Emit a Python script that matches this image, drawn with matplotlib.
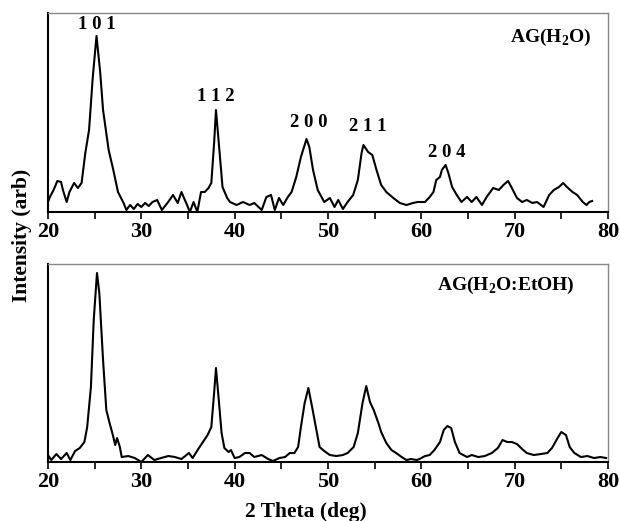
import matplotlib.pyplot as plt

plt.rcParams['font.family'] = ['Liberation Serif', 'DejaVu Serif']
plt.rcParams['font.weight'] = 'bold'
plt.rcParams['mathtext.fontset'] = 'custom'
plt.rcParams['mathtext.rm'] = 'Liberation Serif:bold'
plt.rcParams['mathtext.bf'] = 'Liberation Serif:bold'

# AG(H2O) pattern
top_2theta = [20.0, 20.2, 20.6, 21.0, 21.4, 21.6, 22.0, 22.3, 22.8, 23.2, 23.6, 24.0, 24.4, 24.8,
              25.2, 25.6, 25.9, 26.5, 27.0, 27.5, 28.1, 28.4, 28.8, 29.2, 29.6, 30.0, 30.4,
              30.8, 31.2, 31.7, 32.2, 32.8, 33.4, 33.9, 34.3, 34.9, 35.2, 35.6, 36.0, 36.4,
              36.8, 37.2, 37.5, 37.8, 38.0, 38.3, 38.7, 39.2, 39.5, 40.2, 40.9, 41.6, 42.1,
              42.9, 43.4, 43.9, 44.3, 44.75, 45.2, 45.7, 46.1, 46.6, 47.1, 47.7, 48.0, 48.4,
              48.9, 49.6, 50.2, 50.7, 51.1, 51.6, 52.1, 52.7, 53.2, 53.6, 53.8, 54.3, 54.75,
              55.2, 55.7, 56.25, 57.0, 57.7, 58.4, 59.1, 59.6, 60.4, 60.9, 61.3, 61.6, 62.0,
              62.2, 62.6, 62.9, 63.3, 63.8, 64.3, 64.9, 65.4, 65.9, 66.5, 67.0, 67.7, 68.3,
              68.8, 69.3, 69.7, 70.25, 70.8, 71.3, 71.9, 72.4, 73.1, 73.7, 74.2, 74.75, 75.2,
              75.6, 76.2, 76.7, 77.3, 77.7, 78.0, 78.3]
top_int = [10, 15, 22, 31, 30, 22, 10, 20, 29, 24, 29, 59, 82, 135,
           176, 139, 102, 62, 42, 20, 9, 2, 7, 3, 8, 5, 9,
           6, 10, 12, 2, 9, 17, 9, 20, 7, 0, 10, 0, 20,
           20, 24, 29, 69, 102, 69, 25, 14, 10, 7, 10, 7, 9,
           2, 15, 17, 2, 14, 7, 15, 20, 35, 55, 73, 65, 42,
           22, 10, 14, 5, 12, 3, 10, 17, 32, 59, 67, 60, 57,
           42, 27, 20, 14, 9, 7, 9, 10, 10, 15, 20, 32, 35,
           42, 47, 39, 25, 17, 10, 15, 10, 15, 7, 15, 24, 22,
           27, 31, 24, 14, 10, 12, 9, 10, 5, 17, 22, 25, 29,
           25, 20, 17, 10, 7, 10, 11]

# AG(H2O:EtOH) pattern
bot_2theta = [20.0, 20.35, 20.9, 21.4, 22.0, 22.4, 22.9, 23.4, 23.9, 24.2, 24.6, 24.9, 25.25,
              25.5, 25.9, 26.25, 26.6, 26.95, 27.2, 27.4, 27.7, 27.9, 28.6, 29.3, 30.0, 30.7,
              31.4, 32.1, 32.9, 33.6, 34.3, 35.1, 35.5, 36.1, 36.6, 37.1, 37.5, 37.8, 38.0,
              38.3, 38.6, 38.9, 39.35, 39.6, 40.0, 40.5, 41.1, 41.6, 42.1, 42.9, 43.6, 44.1,
              44.8, 45.4, 45.9, 46.4, 46.8, 47.1, 47.5, 47.9, 48.3, 48.7, 49.1, 49.6, 50.2,
              50.9, 51.6, 52.1, 52.75, 53.2, 53.7, 54.1, 54.5, 54.9, 55.4, 55.7, 56.25, 56.8,
              57.3, 57.9, 58.4, 58.9, 59.5, 59.8, 60.4, 60.9, 61.4, 62.0, 62.4, 62.8, 63.2,
              63.6, 64.1, 64.9, 65.4, 66.1, 66.8, 67.55, 68.2, 68.7, 69.2, 69.7, 70.25, 70.8,
              71.3, 72.05, 72.8, 73.5, 74.0, 74.6, 75.0, 75.5, 75.9, 76.4, 77.1, 77.8, 78.5,
              79.2, 79.8]
bot_int = [7, 2, 8, 3, 9, 2, 11, 14, 20, 35, 75, 142, 189,
           169, 102, 52, 39, 27, 17, 24, 15, 5, 6, 4, 0, 7,
           2, 4, 6, 5, 3, 9, 4, 13, 20, 27, 35, 69, 94,
           62, 29, 14, 10, 12, 4, 5, 9, 9, 5, 7, 3, 1,
           4, 5, 9, 9, 15, 35, 59, 74, 55, 35, 15, 11, 7,
           6, 7, 9, 15, 29, 59, 76, 60, 52, 39, 30, 19, 12,
           9, 5, 2, 3, 2, 3, 6, 7, 12, 20, 32, 36, 34,
           20, 9, 5, 7, 5, 6, 9, 14, 22, 20, 20, 18, 13,
           9, 7, 8, 9, 14, 24, 30, 27, 15, 9, 5, 6, 4,
           5, 4]

peak_labels = ['1 0 1', '1 1 2', '2 0 0', '2 1 1', '2 0 4']
peak_pos = [25.2, 38.0, 47.9, 54.3, 62.7]
peak_text_h = [187, 115, 89, 85, 59]

fig = plt.figure(figsize=(6.2, 5.21), dpi=100)
ax1 = fig.add_axes([0.0774, 0.5931, 0.9032, 0.382])
ax2 = fig.add_axes([0.0774, 0.1132, 0.9032, 0.380])

for ax in (ax1, ax2):
    ax.set_xlim(20, 80)
    ax.set_xticks([20, 30, 40, 50, 60, 70, 80])
    ax.set_xticks([25, 35, 45, 55, 65, 75], minor=True)
    ax.tick_params(axis='x', which='both', direction='out', length=5, width=1.2,
                   labelsize=16, pad=2)
    ax.tick_params(axis='y', left=False, labelleft=False)
    ax.spines['left'].set_linewidth(1.5)
    ax.spines['bottom'].set_linewidth(1.5)
    ax.spines['top'].set_color('#888888')
    ax.spines['right'].set_color('#888888')
    ax.spines['top'].set_linewidth(1.0)
    ax.spines['right'].set_linewidth(1.0)

ax1.plot(top_2theta, top_int, color='black', lw=1.5)
ax1.set_ylim(0, 199)
for lab, x, h in zip(peak_labels, peak_pos, peak_text_h):
    ax1.text(x, h, lab, ha='center', va='center', fontsize=13.5, fontweight='bold')
ax1.text(0.971, 0.879, r'AG(H$_{\mathbf{2}}$O)', transform=ax1.transAxes,
         ha='right', va='center', fontsize=14, fontweight='bold')

ax2.plot(bot_2theta, bot_int, color='black', lw=1.5)
ax2.set_ylim(0, 198)
ax2.text(0.941, 0.894, r'AG(H$_{\mathbf{2}}$O:EtOH)', transform=ax2.transAxes,
         ha='right', va='center', fontsize=14, fontweight='bold')

fig.text(22 / 620, 1 - 235 / 521, 'Intensity (arb)', rotation=90, ha='center', va='center',
         fontsize=15.5, fontweight='bold')
fig.text(306 / 620, 1 - 512 / 521, '2 Theta (deg)', ha='center', va='center',
         fontsize=15.5, fontweight='bold')

plt.savefig('out.png', dpi=100)
